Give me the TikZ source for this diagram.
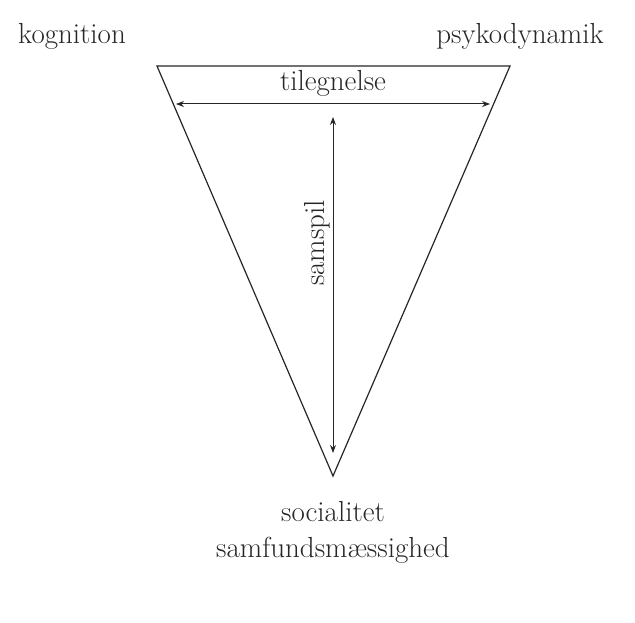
\documentclass[tikz,border=0pt]{standalone}
\usetikzlibrary{arrows.meta}
\begin{document}
\begin{tikzpicture}[x=1pt,y=-1pt,
  lbl/.style={inner sep=0pt, font=\fontsize{29}{34}\selectfont, text=black!85},
  edge/.style={line width=1.2pt, draw=black!85},
  dbl/.style={line width=1pt, draw=black!85, {Stealth[length=8pt,width=6pt]}-{Stealth[length=8pt,width=6pt]}}]
\useasboundingbox (0,0) rectangle (635,623);
\coordinate (tl) at (157,66);
\coordinate (tr) at (510,66);
\coordinate (bt) at (333,476);
\draw[edge] (tl) -- (tr) -- (bt) -- cycle;
\coordinate (ha) at (176,104);
\coordinate (hb) at (490,104);
\draw[dbl] (ha) -- (hb);
\coordinate (va) at (333,117);
\coordinate (vb) at (333,453);
\draw[dbl] (va) -- (vb);
\node[lbl] (kog) at (72,36) {kognition};
\node[lbl] (psy) at (520,36) {psykodynamik};
\node[lbl] (til) at (333,83) {tilegnelse};
\node[lbl, rotate=90] (sam) at (317,243) {samspil};
\node[lbl] (soc) at (333,512) {socialitet};
\node[lbl] (smf) at (333,550) {samfundsmæssighed};
\end{tikzpicture}
\end{document}
